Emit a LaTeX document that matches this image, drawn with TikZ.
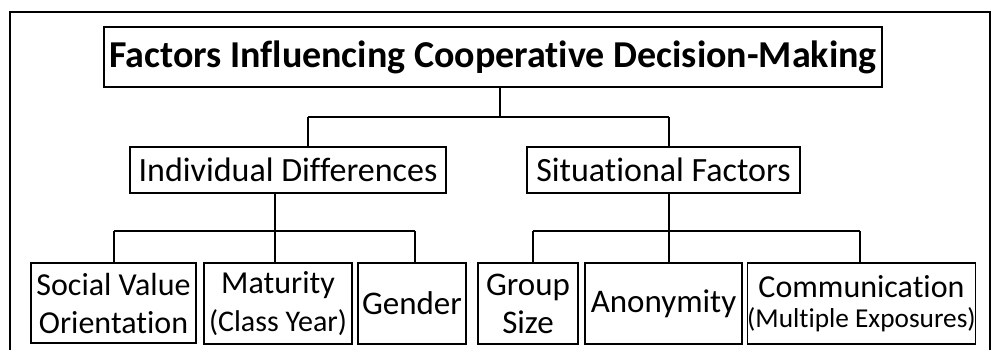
\documentclass[tikz,border=0pt]{standalone}
\usepackage{fontspec}
\setmainfont[Ligatures=NoCommon]{Carlito}
\newcommand{\fsz}[1]{\fontsize{#1}{38}\selectfont}
\begin{document}
\begin{tikzpicture}[x=1pt,y=-1pt,
  box/.style={draw=black,line width=1.2pt,rectangle,inner sep=0pt,align=center,
    font=\fsz{32}},
  conn/.style={draw=black,line width=2.4pt},
  frame/.style={draw=black,line width=2pt}]
\useasboundingbox (0,0) rectangle (995,349);
\draw[frame] (10,360) -- (10,12) -- (990,12) -- (990,360);
\node[box,minimum width=778,minimum height=60,font=\fontsize{38}{40}\bfseries\selectfont] (title) at (493,57) {Factors Influencing Cooperative Decision-Making};
\node[box,minimum width=316,minimum height=46,font=\fsz{34}] (ind) at (288,170) {Individual Differences};
\node[box,minimum width=273,minimum height=46,font=\fsz{34}] (sit) at (663.5,170) {Situational Factors};
\node[box,minimum width=165,minimum height=80] (svo) at (113.5,303) {Social Value\\Orientation};
\node[box,minimum width=148,minimum height=81] (mat) at (278,303.5) {Maturity\\{\fsz{30}(Class Year)}};
\node[box,minimum width=108,minimum height=81,font=\fsz{33}] (gen) at (412,303.5) {Gender};
\node[box,minimum width=100,minimum height=81,font=\fsz{33}] (grp) at (528,303.5) {Group\\Size};
\node[box,minimum width=157,minimum height=81,font=\fsz{33}] (ano) at (663.5,303.5) {Anonymity};
\node[box,minimum width=227,minimum height=81,font=\fontsize{32}{30}\selectfont] (com) at (861.5,303.5) {Communication\\{\fontsize{27.3}{30}\selectfont(Multiple Exposures)}};
\coordinate (j0) at (500,117);
\coordinate (jL) at (308,117);
\coordinate (jR) at (669,117);
\draw[conn] (title.south -| j0) -- (j0);
\draw[conn] (jL) -- (jR);
\draw[conn] (jL) -- (jL |- ind.north);
\draw[conn] (jR) -- (jR |- sit.north);
\coordinate (a1) at (114,231);
\coordinate (a2) at (275,231);
\coordinate (a3) at (415,231);
\coordinate (b1) at (533,231);
\coordinate (b2) at (669,231);
\coordinate (b3) at (860,231);
\draw[conn] (a1) -- (a3);
\draw[conn] (ind.south -| a2) -- (a2 |- mat.north);
\draw[conn] (a1) -- (a1 |- svo.north);
\draw[conn] (a3) -- (a3 |- gen.north);
\draw[conn] (b1) -- (b3);
\draw[conn] (sit.south -| b2) -- (b2 |- ano.north);
\draw[conn] (b1) -- (b1 |- grp.north);
\draw[conn] (b3) -- (b3 |- com.north);
\end{tikzpicture}
\end{document}
